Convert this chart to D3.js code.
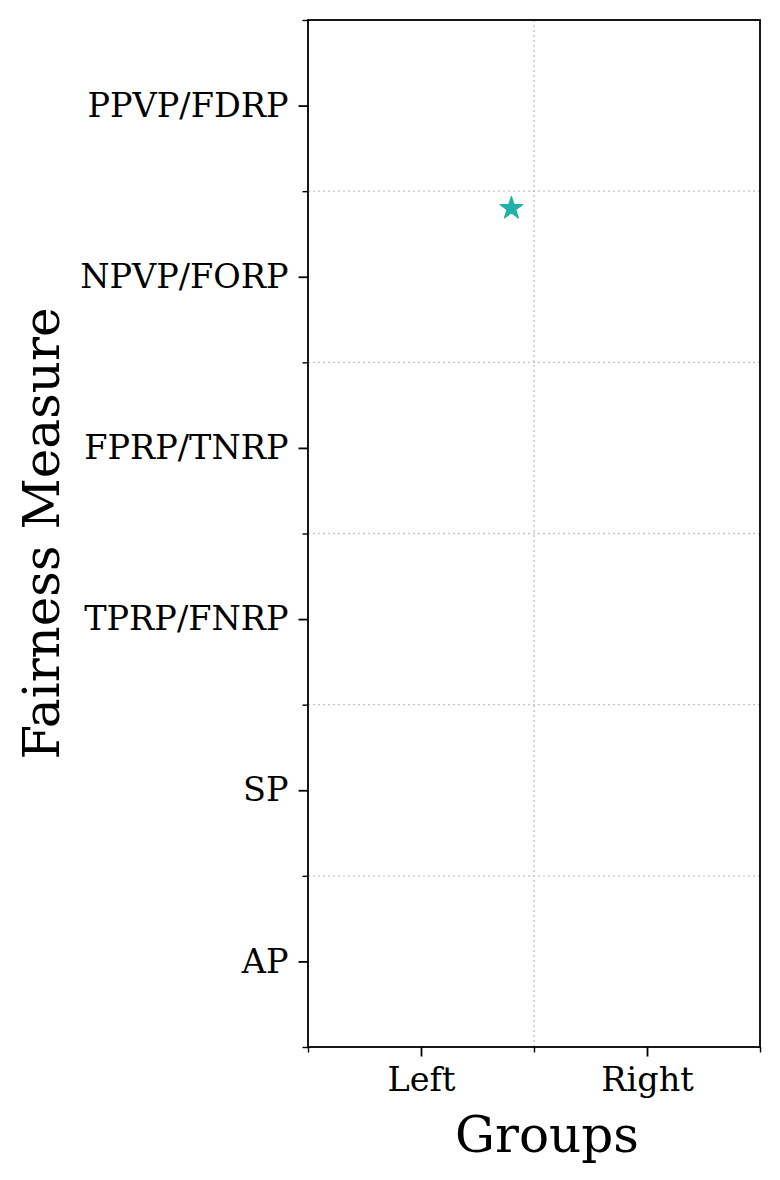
<!DOCTYPE html>
<html>
<head>
<meta charset="utf-8">
<script src="https://cdn.jsdelivr.net/npm/d3@7"></script>
<style>
  body { margin: 0; background: #fff; }
  text { font-family: "DejaVu Serif", serif; fill: #000; }
</style>
</head>
<body>
<div id="chart"></div>
<script>
// chart size and plot box
const FRAME_WIDTH = 780;
const FRAME_HEIGHT = 1180;
const MARGINS = {left: 308, right: 20, top: 20, bottom: 133};

// data
const groups = ["Left", "Right"];
const measures = ["AP", "SP", "TPRP/FNRP", "FPRP/TNRP", "NPVP/FORP", "PPVP/FDRP"];
const pointX = [0.4];
const pointY = [4.4];

const plotW = FRAME_WIDTH - MARGINS.left - MARGINS.right;
const plotH = FRAME_HEIGHT - MARGINS.top - MARGINS.bottom;

const svg = d3.select("#chart")
  .append("svg")
    .attr("width", FRAME_WIDTH)
    .attr("height", FRAME_HEIGHT);

const g = svg.append("g")
  .attr("transform", `translate(${MARGINS.left},${MARGINS.top})`);

// scales over category index, padded by half a step
const x = d3.scaleLinear().domain([-0.5, groups.length - 0.5]).range([0, plotW]);
const y = d3.scaleLinear().domain([-0.5, measures.length - 0.5]).range([plotH, 0]);

const xMinor = d3.range(-0.5, groups.length, 1);
const yMinor = d3.range(-0.5, measures.length, 1);

// dotted grid at minor ticks
g.selectAll(".gx")
  .data(xMinor)
  .enter()
  .append("line")
    .attr("x1", (d) => x(d)).attr("x2", (d) => x(d))
    .attr("y1", 0).attr("y2", plotH)
    .attr("stroke", "#c4c4c4")
    .attr("stroke-width", 1.4)
    .attr("stroke-dasharray", "2,3");

g.selectAll(".gy")
  .data(yMinor)
  .enter()
  .append("line")
    .attr("y1", (d) => y(d)).attr("y2", (d) => y(d))
    .attr("x1", 0).attr("x2", plotW)
    .attr("stroke", "#c4c4c4")
    .attr("stroke-width", 1.4)
    .attr("stroke-dasharray", "2,3");

// major axes
const xAxis = d3.axisBottom(x)
  .tickValues(d3.range(groups.length))
  .tickFormat((d) => groups[d])
  .tickSize(9.5).tickPadding(11);
const yAxis = d3.axisLeft(y)
  .tickValues(d3.range(measures.length))
  .tickFormat((d) => measures[d])
  .tickSize(9.5).tickPadding(10);

const gx = g.append("g").attr("transform", `translate(0,${plotH})`).call(xAxis);
const gy = g.append("g").call(yAxis);

[gx, gy].forEach((a) => {
  a.select(".domain").remove();
  a.selectAll("line").attr("stroke", "#000").attr("stroke-width", 1.8);
  a.selectAll("text").style("font-family", "DejaVu Serif").style("font-size", "33.5px");
});

// minor ticks
g.append("g").attr("transform", `translate(0,${plotH})`)
  .call(d3.axisBottom(x).tickValues(xMinor).tickSize(5.5).tickFormat(""))
  .call((a) => a.select(".domain").remove())
  .selectAll("line").attr("stroke", "#000").attr("stroke-width", 1.4);
g.append("g")
  .call(d3.axisLeft(y).tickValues(yMinor).tickSize(5.5).tickFormat(""))
  .call((a) => a.select(".domain").remove())
  .selectAll("line").attr("stroke", "#000").attr("stroke-width", 1.4);

// frame
g.append("rect")
  .attr("width", plotW).attr("height", plotH)
  .attr("fill", "none").attr("stroke", "#000").attr("stroke-width", 1.8);

// point
g.selectAll(".pt")
  .data(pointX)
  .enter()
  .append("path")
    .attr("d", d3.symbol().type(d3.symbolStar).size(160))
    .attr("transform", (d, i) => `translate(${x(d)},${y(pointY[i])})`)
    .attr("fill", "#20b2aa")
    .attr("stroke", "#20b2aa")
    .attr("stroke-width", 1.2)
    .attr("stroke-linejoin", "round");

// axis titles
svg.append("text")
  .attr("x", 547)
  .attr("y", 1152)
  .attr("text-anchor", "middle")
  .style("font-size", "50px")
  .text("Groups");

svg.append("text")
  .attr("transform", `translate(59,${MARGINS.top + plotH / 2}) rotate(-90)`)
  .attr("text-anchor", "middle")
  .style("font-size", "50px")
  .text("Fairness Measure");
</script>
</body>
</html>
